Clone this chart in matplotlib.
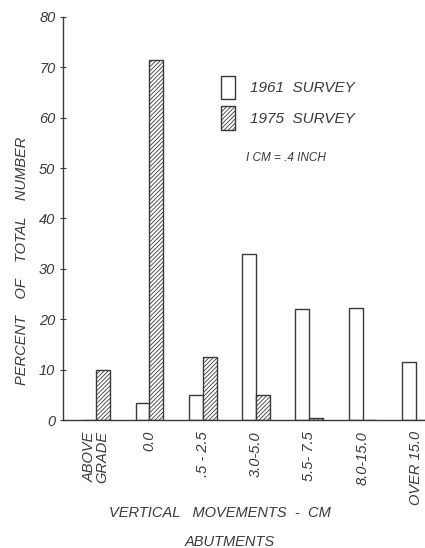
import matplotlib
matplotlib.use("Agg")
import matplotlib.pyplot as plt
import numpy as np
from matplotlib.patches import Patch

categories = ["ABOVE\nGRADE", "0.0", ".5 - 2.5", "3.0-5.0", "5.5- 7.5", "8.0-15.0", "OVER 15.0"]
survey_1961 = [0.0, 3.3, 5.0, 33.0, 22.0, 22.2, 11.6]
survey_1975 = [10.0, 71.5, 12.5, 5.0, 0.3, 0.0, 0.0]
y_ticks = [0, 10, 20, 30, 40, 50, 60, 70, 80]

ink = "#3a3a3a"
plt.rcParams["hatch.linewidth"] = 0.6
plt.rcParams["hatch.color"] = ink
font = dict(family="Liberation Sans", style="italic", color=ink)

W, H = 425, 548
fig = plt.figure(figsize=(W / 100, H / 100), dpi=100)
ax = fig.add_axes([63 / W, (H - 420) / H, 1 - 63 / W, (420 - 17) / H])

x = np.arange(len(categories))
bw = 0.26
ax.bar(x - bw / 2, survey_1961, width=bw, facecolor="white", edgecolor=ink, linewidth=1.0)
ax.bar(x + bw / 2, survey_1975, width=bw, facecolor="white", edgecolor=ink, linewidth=1.0,
       hatch="////////")

ax.set_xlim(-0.62, 6.17)
ax.set_ylim(0, 80)
for s in ["top", "right"]:
    ax.spines[s].set_visible(False)
for s in ["left", "bottom"]:
    ax.spines[s].set_color(ink)
    ax.spines[s].set_linewidth(1.0)

ax.set_yticks(y_ticks)
ax.set_yticklabels([str(v) for v in y_ticks], fontsize=10.5, **font)
ax.tick_params(axis="y", direction="inout", length=5, width=0.8, color=ink, pad=3)

ax.set_xticks(x)
ax.set_xticklabels(categories, rotation=90, fontsize=10.5, linespacing=0.95, va="top", ha="center", **font)
ax.tick_params(axis="x", length=0, pad=8)

fig.text(22 / W, 1 - 261 / H, "PERCENT    OF    TOTAL    NUMBER", rotation=90,
         ha="center", va="center", fontsize=10.5, **font)
fig.text(220 / W, 1 - 513 / H, "VERTICAL   MOVEMENTS  -  CM", ha="center", va="center",
         fontsize=10.5, **font)
fig.text(230 / W, 1 - 542 / H, "ABUTMENTS", ha="center", va="center", fontsize=10.5, **font)

handles = [Patch(facecolor="white", edgecolor=ink, linewidth=1.0, label="1961  SURVEY"),
           Patch(facecolor="white", edgecolor=ink, linewidth=1.0, hatch="////////", label="1975  SURVEY")]
leg = ax.legend(handles=handles, loc="upper left", bbox_to_anchor=(207 / W, 1 - 62 / H),
                bbox_transform=fig.transFigure, frameon=False, handlelength=0.9,
                handleheight=2.0, handletextpad=1.0, labelspacing=0.45,
                prop=dict(family="Liberation Sans", style="italic", size=11))
for t in leg.get_texts():
    t.set_color(ink)

fig.text(246 / W, 1 - 158 / H, "I CM = .4 INCH", ha="left", va="center", fontsize=8.5, **font)

fig.savefig("out.png", dpi=100, facecolor="white")
